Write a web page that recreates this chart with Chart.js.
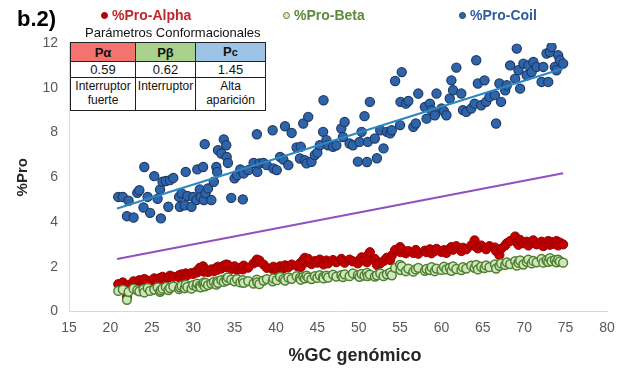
<!DOCTYPE html>
<html><head><meta charset="utf-8">
<script src="https://cdn.jsdelivr.net/npm/chart.js@4.4.1/dist/chart.umd.min.js"></script>
<style>
html,body{margin:0;padding:0;background:#fff;}
#wrap{position:relative;width:623px;height:370px;font-family:"Liberation Sans",Arial,sans-serif;overflow:hidden;}
canvas{position:absolute;left:0;top:0;}
.ov{position:absolute;white-space:nowrap;}
#tag{left:17px;top:6px;font-size:22px;font-weight:bold;color:#000;}
.lg{top:6px;font-size:14px;font-weight:bold;line-height:18px;}
.lg i{display:inline-block;width:7px;height:7px;border-radius:50%;vertical-align:middle;margin-right:4px;position:relative;top:-1px;box-sizing:border-box;}
#ptitle{left:85px;top:25px;font-size:13px;color:#111;}
table{position:absolute;left:70px;top:42px;border-collapse:collapse;table-layout:fixed;background:#fff;color:#111;}
td{border:1px solid #222;text-align:center;padding:0;overflow:hidden;}
tr.h td{height:17px;font-size:13px;font-weight:bold;line-height:17px;}
tr.v td{height:15px;font-size:13px;line-height:15px;}
tr.t td{height:31px;font-size:12px;line-height:14px;vertical-align:top;padding-top:1px;}
#xt{left:255px;top:345px;width:200px;text-align:center;font-size:18px;font-weight:bold;color:#262626;}
</style></head>
<body>
<div id="wrap">
<canvas id="c" width="623" height="370"></canvas>
<div class="ov" id="tag">b.2)</div>
<div class="ov lg" style="left:101px;color:#C0282D"><i style="background:#C00000;border:1px solid #9B0000"></i>%Pro-Alpha</div>
<div class="ov lg" style="left:283px;color:#5E8A3A"><i style="background:#D5EBC5;border:1.5px solid #548235"></i>%Pro-Beta</div>
<div class="ov lg" style="left:459px;color:#2E5C9E"><i style="background:#2E64AA;border:1px solid #1F3A68"></i>%Pro-Coil</div>
<div class="ov" id="ptitle">Parámetros Conformacionales</div>
<table>
<colgroup><col style="width:65px"><col style="width:60px"><col style="width:70px"></colgroup>
<tr class="h"><td style="background:#F4736F">Pα</td><td style="background:#A9D18E">Pβ</td><td style="background:#9DC3E6">P<span style="font-size:11px">c</span></td></tr>
<tr class="v"><td>0.59</td><td>0.62</td><td>1.45</td></tr>
<tr class="t"><td>Interruptor<br>fuerte</td><td>Interruptor</td><td>Alta<br>aparición</td></tr>
</table>
<div class="ov" id="xt">%GC genómico</div>
</div>
<script>
// %GC genómico of each genome
const gc = [
20.95,21.5,22.0,22.2,22.8,23.25,23.5,24.0,24.1,24.5,
24.8,25.3,25.7,26.0,26.1,26.3,26.7,27.0,27.2,27.6,
28.3,28.4,28.6,29.0,29.1,29.3,29.8,30.0,30.4,30.5,
30.8,30.9,31.2,31.3,31.4,31.5,31.8,32.2,32.5,32.8,
32.9,33.0,33.4,33.7,34.0,34.05,34.2,34.6,35.0,35.3,
35.7,36.0,36.1,36.65,37.3,37.7,37.75,38.0,38.5,38.9,
39.6,39.7,40.1,40.5,40.9,41.1,41.5,41.9,42.5,42.9,
43.0,43.3,43.5,43.7,43.9,44.3,44.7,45.0,45.3,45.7,
45.75,46.1,46.3,46.9,47.3,47.9,48.1,48.3,48.9,49.3,
49.9,50.1,50.35,50.7,51.0,51.1,51.35,51.95,52.2,52.6,
53.0,53.4,53.8,54.0,54.4,55.0,55.05,55.2,55.7,56.0,
56.6,56.9,57.2,58.0,58.2,58.6,58.8,59.2,59.4,60.0,
60.3,60.6,61.0,61.2,61.4,61.8,62.4,62.6,63.0,63.6,
64.0,64.2,64.4,64.8,65.2,65.4,65.8,66.45,66.6,67.0,
67.2,67.7,67.9,68.3,68.9,69.1,69.3,69.5,69.9,70.3,
70.5,70.9,71.1,71.5,72.1,72.3,72.7,72.9,73.1,73.3,
73.7,73.9,74.1,74.3,74.7];

const proAlpha = [
1.22,1.30,0.65,1.18,1.35,1.28,1.40,1.32,1.45,1.38,
1.30,1.48,1.42,1.50,1.36,1.55,1.47,1.52,1.60,1.55,
1.62,1.50,1.66,1.58,1.70,1.63,1.72,1.68,1.80,1.75,
1.95,1.85,2.02,1.78,1.90,1.82,1.76,1.88,1.80,1.95,
1.86,2.00,1.92,2.05,2.10,1.98,2.08,1.90,2.02,1.85,
1.95,1.88,2.05,1.96,2.15,2.32,2.22,2.28,2.10,1.95,
1.90,2.00,1.88,2.02,1.92,2.06,1.98,2.10,2.04,2.15,
1.98,2.30,2.40,2.20,2.35,2.12,2.25,2.18,2.32,2.22,
2.10,2.28,2.15,2.30,2.20,2.35,2.25,2.18,2.32,2.24,
2.15,2.30,2.42,2.28,2.20,2.50,2.65,2.35,2.08,2.15,
2.25,2.40,2.30,2.50,2.75,2.88,2.65,2.78,2.60,2.70,
2.62,2.75,2.58,2.72,2.65,2.78,2.60,2.70,2.80,2.66,
2.74,2.62,2.80,2.88,2.76,2.92,2.70,2.85,2.78,2.95,
3.18,2.90,2.82,2.95,2.85,2.78,2.92,2.86,2.70,2.52,
2.80,2.95,3.05,3.15,3.35,3.10,2.98,3.20,3.05,3.12,
2.95,3.08,3.18,3.00,3.12,2.92,3.05,3.15,2.98,3.10,
3.02,3.15,2.95,3.08,3.00];

const proBeta = [
0.92,0.98,0.52,0.88,1.02,0.95,0.90,1.00,0.85,1.05,
0.92,0.98,1.08,0.88,0.95,1.02,1.10,0.96,1.05,1.12,
1.00,1.08,1.15,1.04,1.20,1.10,1.02,1.18,1.12,1.25,
1.15,1.08,1.22,1.30,1.12,1.28,1.18,1.25,1.32,1.20,
1.35,1.28,1.40,1.32,1.48,1.38,1.52,1.42,1.35,1.45,
1.30,1.40,1.28,1.36,1.25,1.42,1.30,1.22,1.38,1.45,
1.35,1.48,1.40,1.55,1.45,1.38,1.52,1.46,1.58,1.50,
1.42,1.55,1.48,1.60,1.52,1.45,1.58,1.50,1.62,1.55,
1.48,1.60,1.52,1.65,1.56,1.62,1.54,1.66,1.58,1.70,
1.62,1.55,1.68,1.60,1.72,1.58,1.65,1.56,1.62,1.70,
1.58,1.66,1.74,1.62,1.95,2.08,1.85,2.02,1.80,1.92,
1.78,1.88,1.95,1.82,1.90,1.85,1.98,1.80,1.92,1.86,
2.00,1.88,1.95,1.82,2.02,1.90,1.85,1.98,1.92,2.05,
1.95,2.08,1.88,2.00,1.94,2.06,1.98,2.10,1.92,2.04,
2.15,2.08,2.20,2.12,2.25,2.05,2.18,2.28,2.10,2.22,
2.32,2.15,2.26,2.20,2.35,2.18,2.28,2.22,2.38,2.25,
2.30,2.20,2.32,2.24,2.18];

const proCoil = [
5.12,5.12,4.26,4.95,4.20,5.30,5.42,4.65,6.46,5.12,
4.41,6.05,5.04,5.45,4.16,5.80,5.83,4.68,5.87,5.97,
5.12,4.68,5.28,4.75,6.24,5.16,4.68,5.12,4.98,6.35,
5.45,5.12,6.46,4.98,7.48,5.28,5.50,4.98,5.80,6.46,
6.24,7.21,7.06,7.69,7.43,6.91,6.64,5.08,5.95,6.09,
6.35,5.01,6.17,6.32,6.64,7.92,6.24,6.62,6.64,6.54,
8.10,6.39,6.32,6.91,6.79,8.28,6.54,7.98,7.33,6.84,
7.36,8.40,6.76,6.62,8.70,6.69,6.99,7.10,7.43,8.03,
9.44,7.66,7.43,7.36,7.43,8.18,7.80,8.47,7.51,7.43,
6.70,7.58,8.03,8.73,6.68,7.58,9.37,7.73,6.85,8.10,
7.29,8.03,7.96,8.10,10.30,8.33,9.37,10.70,9.29,9.41,
8.25,8.40,9.74,9.14,8.62,9.29,9.00,8.77,9.74,9.07,
8.95,8.77,9.52,10.33,9.89,10.90,9.74,9.00,8.92,9.07,
9.29,11.23,10.19,9.22,10.33,9.37,9.59,9.67,8.40,10.19,
9.37,9.89,10.11,11.00,10.41,11.75,10.78,9.96,11.08,10.56,
11.00,10.70,11.15,10.93,10.26,10.93,11.53,10.26,11.60,11.82,
10.93,10.78,11.45,11.23,11.08];

// line end points
const lineGC = [20.8, 74.7];
const coilTrend = [4.6, 10.86];
const purpleLine = [2.35, 6.18];

// axes
const xRange = [15, 80], xStep = 5;
const yRange = [0, 12], yStep = 2;

const pts = (xs, ys) => xs.map((x, i) => ({x: x, y: ys[i]}));

new Chart(document.getElementById('c'), {
  type: 'scatter',
  data: {
    datasets: [
      { label: 'Tendencia Coil', data: pts(lineGC, coilTrend), showLine: true, pointRadius: 0,
        borderColor: '#2B88C3', borderWidth: 2, order: 0 },
      { label: 'Línea', data: pts(lineGC, purpleLine), showLine: true, pointRadius: 0,
        borderColor: '#9050C0', borderWidth: 2, order: 0 },
      { label: '%Pro-Coil', data: pts(gc, proCoil), pointRadius: 4.6, borderWidth: 1.2,
        backgroundColor: '#2E64AA', borderColor: '#1F3A68', order: 1 },
      { label: '%Pro-Beta', data: pts(gc, proBeta), pointRadius: 4.4, borderWidth: 1.5,
        backgroundColor: '#CDE6BA', borderColor: '#4F7F30', order: 2 },
      { label: '%Pro-Alpha', data: pts(gc, proAlpha), pointRadius: 4.6, borderWidth: 1,
        backgroundColor: '#C00000', borderColor: '#9B0000', order: 3 }
    ]
  },
  options: {
    responsive: false,
    animation: false,
    layout: { padding: { top: 43, right: 16, left: 0, bottom: 0 } },
    plugins: { legend: { display: false }, tooltip: { enabled: false } },
    scales: {
      x: {
        type: 'linear', min: xRange[0], max: xRange[1],
        grid: { display: false, drawTicks: false },
        border: { display: true, color: '#D9D9D9', width: 1 },
        ticks: { stepSize: xStep, padding: 8, color: '#595959',
                 font: { family: '"Liberation Sans", Arial, sans-serif', size: 14 } },
        afterFit: s => { s.height = 58.5; }
      },
      y: {
        min: yRange[0], max: yRange[1],
        grid: { display: false, drawTicks: false },
        border: { display: true, color: '#D9D9D9', width: 1 },
        ticks: { stepSize: yStep, padding: 11, color: '#595959',
                 font: { family: '"Liberation Sans", Arial, sans-serif', size: 14 } },
        title: { display: true, text: '%Pro', color: '#262626', padding: { top: 14, bottom: 0 },
                 font: { family: '"Liberation Sans", Arial, sans-serif', size: 15, weight: 'bold' } },
        afterFit: s => { s.width = 69; }
      }
    }
  }
});
</script>
</body></html>
